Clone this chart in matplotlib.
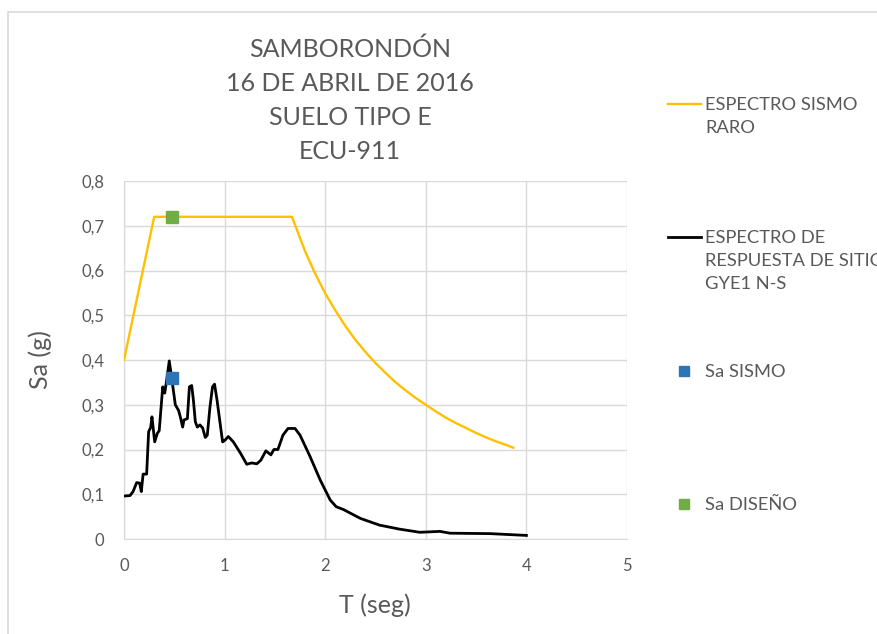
import matplotlib.pyplot as plt
from matplotlib.lines import Line2D
from matplotlib.patches import Rectangle

# espectro sismo raro (NEC, suelo tipo E)
t_raro = [0, 0.3, 1.67, 1.8, 1.9, 2.0, 2.1, 2.2, 2.3, 2.4, 2.5, 2.6, 2.7, 2.8,
          2.9, 3.0, 3.1, 3.2, 3.3, 3.4, 3.5, 3.6, 3.7, 3.8, 3.87]
sa_raro = [0.4, 0.72, 0.72, 0.643, 0.593, 0.549, 0.511, 0.476, 0.445, 0.418,
           0.393, 0.371, 0.350, 0.332, 0.315, 0.300, 0.285, 0.271, 0.259,
           0.248, 0.237, 0.227, 0.218, 0.210, 0.204]

# espectro de respuesta de sitio GYE1 N-S
t_sitio = [0, 0.06, 0.09, 0.126, 0.155, 0.172, 0.19, 0.225, 0.245, 0.265, 0.278,
           0.305, 0.331, 0.35, 0.385, 0.405, 0.424, 0.45, 0.477, 0.51, 0.543,
           0.563, 0.583, 0.596, 0.63, 0.65, 0.673, 0.69, 0.709, 0.729, 0.755,
           0.782, 0.808, 0.828, 0.855, 0.88, 0.90, 0.925, 0.98, 1.0, 1.037,
           1.087, 1.16, 1.22, 1.27, 1.32, 1.36, 1.41, 1.46, 1.49, 1.53, 1.58,
           1.63, 1.70, 1.75, 1.85, 1.95, 2.05, 2.11, 2.18, 2.35, 2.54, 2.74,
           2.94, 3.14, 3.24, 3.64, 4.0]
sa_sitio = [0.096, 0.097, 0.106, 0.126, 0.125, 0.106, 0.145, 0.145, 0.24, 0.249,
            0.273, 0.217, 0.236, 0.242, 0.34, 0.326, 0.355, 0.398, 0.355, 0.30,
            0.287, 0.27, 0.25, 0.266, 0.269, 0.34, 0.343, 0.31, 0.262, 0.25,
            0.255, 0.248, 0.227, 0.232, 0.296, 0.34, 0.346, 0.31, 0.217, 0.22,
            0.229, 0.217, 0.191, 0.167, 0.17, 0.168, 0.176, 0.197, 0.188, 0.2,
            0.2, 0.232, 0.247, 0.247, 0.232, 0.184, 0.132, 0.087, 0.072, 0.066,
            0.046, 0.031, 0.022, 0.015, 0.017, 0.013, 0.012, 0.008]

t_sismo = [0.48]
sa_sismo = [0.36]
t_diseno = [0.48]
sa_diseno = [0.72]

xticks = [0, 1, 2, 3, 4, 5]
yticks = [0, 0.1, 0.2, 0.3, 0.4, 0.5, 0.6, 0.7, 0.8]

GRIS = '#595959'
AMARILLO = '#FFC000'
AZUL = '#2E75B6'
VERDE = '#70AD47'

plt.rcParams['font.family'] = ['Lato', 'DejaVu Sans']

W, H = 878, 634
fig = plt.figure(figsize=(W / 100, H / 100), dpi=100)


def fx(px):
    return px / W


def fy(py):
    return 1 - py / H


# borde del area del grafico (cortado a la derecha y abajo)
fig.patches.append(Rectangle((fx(8), -0.2), 1.2, fy(12) + 0.2, transform=fig.transFigure,
                             fill=False, edgecolor='#D9D9D9', lw=1.2))

ax = fig.add_axes([fx(124), fy(539), fx(627) - fx(124), fy(181) - fy(539)])
ax.plot(t_raro, sa_raro, color=AMARILLO, lw=1.7, zorder=3)
ax.plot(t_sitio, sa_sitio, color='black', lw=2.0, zorder=3)
ax.plot(t_sismo, sa_sismo, 's', color=AZUL, ms=9, zorder=4)
ax.plot(t_diseno, sa_diseno, 's', color=VERDE, ms=9, zorder=4)

ax.set_xlim(0, 5)
ax.set_ylim(0, 0.8)
ax.set_xticks(xticks)
ax.set_yticks(yticks)
ax.set_yticklabels([f'{v:g}'.replace('.', ',') for v in yticks])
ax.tick_params(length=0, labelsize=12, labelcolor=GRIS)
ax.tick_params(axis='y', pad=14)
ax.tick_params(axis='x', pad=14)
ax.grid(True, color='#D9D9D9', lw=1)
for s in ['top', 'right']:
    ax.spines[s].set_visible(False)
for s in ['left', 'bottom']:
    ax.spines[s].set_color('#D9D9D9')
ax.set_axisbelow(True)

fig.text(fx(40), fy(360), 'Sa (g)', rotation=90, ha='center', va='center',
         fontsize=18, color=GRIS)
fig.text(fx(375), fy(605), 'T (seg)', ha='center', va='center',
         fontsize=18, color=GRIS)

fig.text(fx(350), fy(100), 'SAMBORONDÓN\n16 DE ABRIL DE 2016\nSUELO TIPO E\nECU-911',
         ha='center', va='center', fontsize=18, color=GRIS, linespacing=1.58)

# leyenda
fig.add_artist(Line2D([fx(668), fx(701)], [fy(104), fy(104)], color=AMARILLO, lw=1.7))
fig.add_artist(Line2D([fx(668), fx(701)], [fy(237), fy(237)], color='black', lw=2.0))
fig.add_artist(Line2D([fx(684)], [fy(371)], marker='s', color=AZUL, ms=7, ls='none'))
fig.add_artist(Line2D([fx(684)], [fy(504)], marker='s', color=VERDE, ms=7, ls='none'))

ley = dict(ha='left', va='top', fontsize=13.2, color=GRIS, linespacing=1.52)
fig.text(fx(705), fy(97), 'ESPECTRO SISMO\nRARO', **ley)
fig.text(fx(705), fy(230), 'ESPECTRO DE\nRESPUESTA DE SITIO\nGYE1 N-S', **ley)
fig.text(fx(705), fy(364), 'Sa SISMO', **ley)
fig.text(fx(705), fy(497), 'Sa DISEÑO', **ley)

fig.savefig('out.png', dpi=100)
